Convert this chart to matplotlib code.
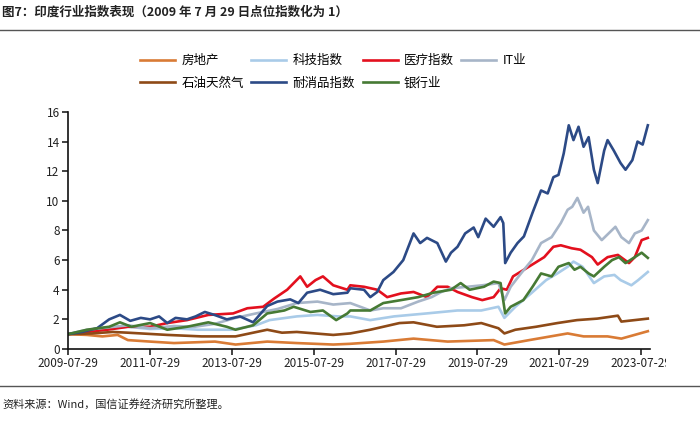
import matplotlib
matplotlib.use("Agg")
import matplotlib.pyplot as plt
from matplotlib.lines import Line2D
from matplotlib.transforms import Bbox, TransformedBbox
import pandas as pd

plt.rcParams['font.family'] = ['Noto Sans CJK SC', 'DejaVu Sans']

title = "图7：印度行业指数表现（2009 年 7 月 29 日点位指数化为 1）"
source = "资料来源：Wind，国信证券经济研究所整理。"

names = ["房地产", "科技指数", "医疗指数", "IT业", "石油天然气", "耐消品指数", "银行业"]
colors = ["#D97B35", "#A9CBE8", "#E3101E", "#A7B5C8", "#8E4A17", "#2C4A86", "#467A34"]

realty_dates = ["2009-07-29", "2010-01-15", "2010-06-01", "2010-10-15", "2011-01-15", "2011-08-01",
                "2012-03-01", "2012-09-01", "2013-03-01", "2013-09-01", "2014-06-10", "2015-03-01",
                "2016-01-20", "2016-06-20", "2017-04-10", "2018-01-05", "2018-11-05", "2019-12-20",
                "2020-03-25", "2020-11-01", "2021-10-10", "2022-03-01", "2022-10-01", "2023-02-01",
                "2023-09-25"]
realty_vals = [1.0, 0.95, 0.85, 0.95, 0.6, 0.5, 0.4, 0.45, 0.5, 0.3, 0.5, 0.4, 0.3, 0.35, 0.5,
               0.7, 0.5, 0.6, 0.3, 0.6, 1.05, 0.85, 0.85, 0.7, 1.2]

tech_dates = ["2009-07-29", "2010-01-15", "2010-07-15", "2011-01-15", "2011-08-01", "2012-03-01",
              "2012-10-01", "2013-08-01", "2014-03-01", "2014-07-01", "2015-03-01", "2015-09-01",
              "2016-03-01", "2016-06-20", "2016-12-15", "2017-07-15", "2018-05-01", "2019-02-01",
              "2019-09-01", "2020-02-01", "2020-03-25", "2020-07-01", "2020-11-25", "2021-04-01",
              "2021-07-10", "2021-10-10", "2021-12-01", "2022-02-20", "2022-06-01", "2022-09-01",
              "2022-12-01", "2023-01-25", "2023-05-01", "2023-07-01", "2023-09-25"]
tech_vals = [1.0, 1.25, 1.35, 1.5, 1.35, 1.4, 1.3, 1.3, 1.6, 1.95, 2.2, 2.3, 2.2, 2.2, 1.95, 2.2,
             2.4, 2.6, 2.6, 2.85, 2.1, 2.85, 3.8, 4.65, 5.1, 5.55, 5.9, 5.55, 4.45, 4.9, 5.0, 4.65,
             4.3, 4.65, 5.2]

health_dates = ["2009-07-29", "2010-01-15", "2010-07-15", "2011-01-15", "2011-08-01", "2012-01-01",
                "2012-06-25", "2013-01-01", "2013-08-10", "2013-12-15", "2014-05-05", "2014-08-10",
                "2014-12-05", "2015-04-01", "2015-06-01", "2015-08-15", "2015-10-20", "2016-01-20",
                "2016-05-25", "2016-06-20", "2016-10-20", "2017-02-15", "2017-05-15", "2017-09-15",
                "2018-01-05", "2018-05-05", "2018-08-05", "2018-11-05", "2019-02-01", "2019-06-10",
                "2019-09-10", "2019-12-20", "2020-02-20", "2020-04-15", "2020-06-10", "2020-09-15",
                "2020-12-20", "2021-03-15", "2021-06-05", "2021-08-10", "2021-11-15", "2022-02-01",
                "2022-05-15", "2022-07-05", "2022-10-01", "2023-01-01", "2023-04-10", "2023-06-01",
                "2023-08-01", "2023-09-25"]
health_vals = [1.0, 1.15, 1.3, 1.5, 1.5, 1.75, 1.95, 2.3, 2.4, 2.75, 2.85, 3.4, 4.0, 4.9, 4.2, 4.65,
               4.9, 4.3, 4.0, 4.3, 4.2, 4.0, 3.5, 3.75, 3.85, 3.5, 4.2, 4.2, 3.85, 3.5, 3.3, 3.5,
               4.1, 4.0, 4.9, 5.35, 5.8, 6.2, 6.9, 7.0, 6.8, 6.7, 6.2, 5.7, 6.2, 6.35, 5.8, 6.2,
               7.35, 7.5]

it_dates = ["2009-07-29", "2010-01-15", "2010-07-15", "2011-01-15", "2011-08-01", "2012-03-01",
            "2012-09-01", "2013-03-01", "2013-09-01", "2014-03-01", "2014-09-10", "2015-03-01",
            "2015-09-01", "2016-01-20", "2016-06-20", "2016-12-15", "2017-04-10", "2017-09-15",
            "2018-02-15", "2018-06-15", "2018-09-10", "2018-12-05", "2019-05-01", "2019-09-10",
            "2020-02-01", "2020-03-25", "2020-05-20", "2020-08-20", "2020-11-25", "2021-02-15",
            "2021-05-20", "2021-08-10", "2021-10-10", "2021-11-20", "2022-01-05", "2022-03-01",
            "2022-04-10", "2022-06-01", "2022-08-10", "2022-10-10", "2022-12-10", "2023-02-01",
            "2023-04-10", "2023-06-01", "2023-08-01", "2023-09-25"]
it_vals = [1.0, 1.3, 1.45, 1.6, 1.4, 1.55, 1.5, 1.7, 2.1, 2.4, 2.7, 3.1, 3.2, 3.0, 3.1, 2.6, 2.75,
           2.75, 3.2, 3.5, 3.85, 4.1, 4.2, 4.3, 4.45, 3.3, 4.2, 5.1, 6.0, 7.15, 7.55, 8.5, 9.4, 9.6,
           10.2, 9.2, 9.6, 8.0, 7.35, 7.8, 8.25, 7.55, 7.15, 7.8, 8.0, 8.7]

oil_dates = ["2009-07-29", "2010-03-01", "2010-09-01", "2011-01-15", "2012-01-01", "2012-11-01",
             "2013-09-01", "2014-06-10", "2014-10-20", "2015-03-01", "2016-01-20", "2016-06-20",
             "2016-12-15", "2017-09-01", "2018-01-05", "2018-08-01", "2019-04-01", "2019-09-01",
             "2020-02-01", "2020-03-25", "2020-07-01", "2021-01-01", "2021-07-10", "2022-01-01",
             "2022-07-01", "2023-01-01", "2023-02-01", "2023-09-25"]
oil_vals = [1.0, 1.05, 1.15, 1.1, 0.95, 0.85, 0.85, 1.3, 1.1, 1.15, 0.95, 1.05, 1.3, 1.75, 1.8,
            1.5, 1.6, 1.75, 1.4, 1.05, 1.3, 1.5, 1.75, 1.95, 2.05, 2.25, 1.85, 2.05]

cons_dates = ["2009-07-29", "2009-12-01", "2010-04-15", "2010-08-01", "2010-11-05", "2011-02-05",
              "2011-05-10", "2011-08-01", "2011-10-20", "2012-01-01", "2012-03-15", "2012-06-25",
              "2012-09-10", "2012-12-01", "2013-02-25", "2013-06-15", "2013-10-10", "2014-02-05",
              "2014-06-10", "2014-09-10", "2015-01-01", "2015-03-15", "2015-06-01", "2015-09-25",
              "2016-01-20", "2016-05-25", "2016-06-20", "2016-10-20", "2016-12-15", "2017-02-15",
              "2017-04-10", "2017-07-10", "2017-10-05", "2018-01-05", "2018-03-05", "2018-05-05",
              "2018-08-05", "2018-10-20", "2018-12-05", "2019-02-01", "2019-04-10", "2019-06-25",
              "2019-08-05", "2019-10-10", "2019-12-20", "2020-02-20", "2020-03-15", "2020-04-01",
              "2020-05-20", "2020-07-20", "2020-09-15", "2020-12-01", "2021-02-15", "2021-04-15",
              "2021-06-05", "2021-07-20", "2021-09-05", "2021-10-20", "2021-12-01", "2022-01-15",
              "2022-03-01", "2022-04-15", "2022-06-01", "2022-07-05", "2022-09-01", "2022-10-01",
              "2022-11-25", "2023-01-25", "2023-03-10", "2023-05-10", "2023-06-25", "2023-08-10",
              "2023-09-25"]
cons_vals = [1.0, 1.15, 1.4, 2.0, 2.3, 1.9, 2.1, 2.0, 2.2, 1.75, 2.1, 2.0, 2.2, 2.5, 2.3, 2.0, 2.2,
             1.8, 2.9, 3.2, 3.35, 3.1, 3.8, 4.0, 3.7, 3.8, 4.1, 4.0, 3.5, 3.85, 4.65, 5.2, 6.0, 7.8,
             7.15, 7.5, 7.15, 5.9, 6.5, 6.9, 7.8, 8.2, 7.55, 8.8, 8.25, 8.9, 8.5, 5.8, 6.5, 7.15,
             7.6, 9.2, 10.7, 10.5, 11.6, 11.75, 13.2, 15.1, 14.1, 15.0, 13.65, 14.3, 12.1, 11.2,
             13.4, 14.1, 13.4, 12.55, 12.1, 12.75, 14.0, 13.8, 15.1]

bank_dates = ["2009-07-29", "2010-01-15", "2010-08-01", "2010-11-05", "2011-02-15", "2011-08-01",
              "2012-01-01", "2012-06-25", "2013-01-01", "2013-06-15", "2013-09-01", "2014-02-05",
              "2014-06-10", "2014-11-10", "2015-02-01", "2015-07-01", "2015-10-20", "2016-02-15",
              "2016-05-25", "2016-06-20", "2016-12-15", "2017-04-10", "2017-09-15", "2018-02-15",
              "2018-07-01", "2018-12-05", "2019-03-01", "2019-05-20", "2019-09-25", "2019-12-20",
              "2020-02-20", "2020-04-01", "2020-05-20", "2020-09-10", "2020-12-01", "2021-02-15",
              "2021-05-20", "2021-07-20", "2021-10-20", "2021-12-10", "2022-02-01", "2022-04-15",
              "2022-06-01", "2022-09-01", "2022-11-10", "2023-01-10", "2023-03-10", "2023-06-01",
              "2023-08-01", "2023-09-25"]
bank_vals = [1.0, 1.3, 1.5, 1.8, 1.5, 1.75, 1.3, 1.5, 1.8, 1.5, 1.3, 1.6, 2.4, 2.6, 2.85, 2.5, 2.6,
             1.95, 2.4, 2.6, 2.6, 3.1, 3.3, 3.5, 3.8, 4.0, 4.45, 4.0, 4.2, 4.55, 4.45, 2.4, 2.85,
             3.3, 4.2, 5.1, 4.9, 5.55, 5.8, 5.35, 5.55, 5.1, 4.9, 5.55, 6.0, 6.2, 5.8, 6.2, 6.5,
             6.15]

tick_labels = ["2009-07-29", "2011-07-29", "2013-07-29", "2015-07-29", "2017-07-29",
               "2019-07-29", "2021-07-29", "2023-07-29"]
y_ticks = [0, 2, 4, 6, 8, 10, 12, 14, 16]

series = [
    (realty_dates, realty_vals),
    (tech_dates, tech_vals),
    (health_dates, health_vals),
    (it_dates, it_vals),
    (oil_dates, oil_vals),
    (cons_dates, cons_vals),
    (bank_dates, bank_vals),
]

fig = plt.figure(figsize=(7.0, 4.29), dpi=100)
ax = fig.add_axes([0.097, 0.1865, 0.832, 0.5525])

handles = {}
for name, color, (d, v) in zip(names, colors, series):
    ln, = ax.plot(pd.to_datetime(d), v, color=color, lw=1.9, solid_joinstyle='round')
    handles[name] = ln

ax.set_ylim(0, 16)
ax.set_yticks(y_ticks)
ax.set_xlim(pd.Timestamp("2009-07-29"), pd.Timestamp("2023-10-17"))
ax.set_xticks(pd.to_datetime(tick_labels))
ax.set_xticklabels(tick_labels)
for s in ["top", "right"]:
    ax.spines[s].set_visible(False)
for s in ["left", "bottom"]:
    ax.spines[s].set_linewidth(1.2)
    ax.spines[s].set_color("#111111")
ax.tick_params(axis="both", direction="out", length=4, width=1.2, labelsize=8.5,
               colors="#222222", pad=2)

# the last tick label is cut at the image edge in the reference
last = ax.get_xticklabels()[-1]
last.set_clip_on(True)
last.set_clip_box(TransformedBbox(Bbox([[0, 0], [666 / 700, 1]]), fig.transFigure))

order = ["房地产", "石油天然气", "科技指数", "耐消品指数", "医疗指数", "银行业", "IT业"]
fig.legend([handles[n] for n in order], order, ncol=4, loc="center",
           bbox_to_anchor=(0.476, 0.832), frameon=False, fontsize=9,
           handlelength=2.8, handletextpad=0.5, columnspacing=0.6, labelspacing=0.75)

fig.text(0.003, 0.972, title, fontsize=9, fontweight="bold", va="center", ha="left",
         color="#222222")
fig.add_artist(Line2D([0, 1], [0.93, 0.93], transform=fig.transFigure, color="#555555", lw=1))
fig.add_artist(Line2D([0, 1], [0.1, 0.1], transform=fig.transFigure, color="#555555", lw=1))
fig.text(0.003, 0.058, source, fontsize=8, va="center", ha="left", color="#222222")

fig.savefig("out.png", dpi=100)
